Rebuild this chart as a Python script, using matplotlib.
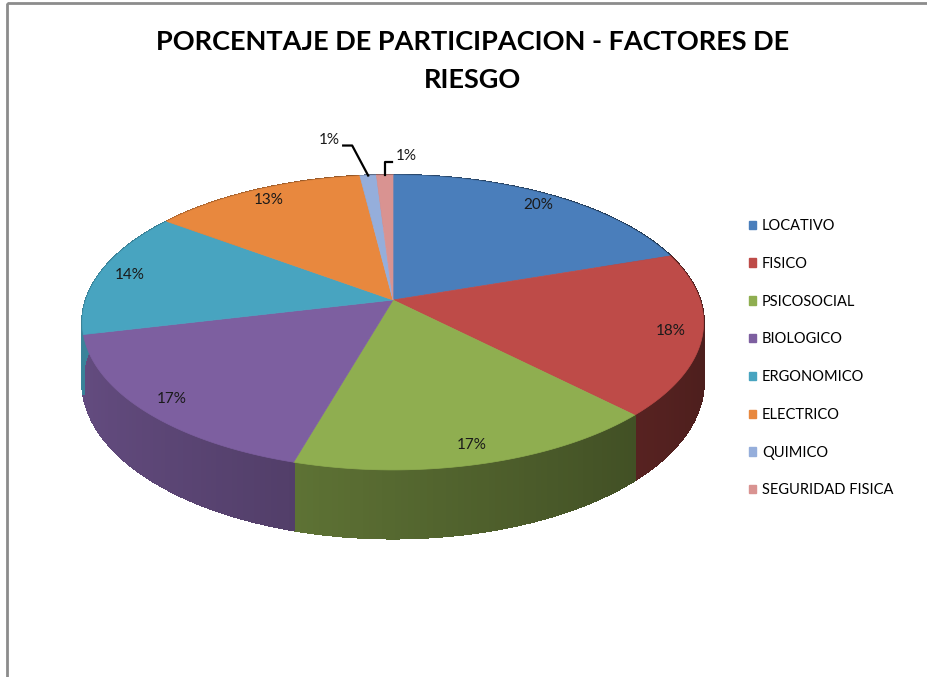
import numpy as np
import matplotlib.pyplot as plt
from matplotlib.patches import Polygon, Rectangle, Patch
from matplotlib.colors import to_rgb

categorias = ["LOCATIVO", "FISICO", "PSICOSOCIAL", "BIOLOGICO",
              "ERGONOMICO", "ELECTRICO", "QUIMICO", "SEGURIDAD FISICA"]
valores = [20, 18, 17, 17, 14, 13, 1, 1]
colores = ["#4A7EBB", "#BE4B48", "#8FAE50", "#7D5FA0",
           "#48A4C0", "#E8883E", "#95AEDB", "#D99391"]
titulo = "PORCENTAJE DE PARTICIPACION - FACTORES DE\nRIESGO"

plt.rcParams['font.family'] = ['Lato', 'DejaVu Sans']

W, H = 928, 677
fig = plt.figure(figsize=(W / 100, H / 100), dpi=100)
ax = fig.add_axes([0, 0, 1, 1])
ax.set_xlim(0, W)
ax.set_ylim(H, 0)
ax.axis('off')

# disco inclinado con algo de perspectiva (coordenadas en pixeles)
cx, cy = 393, 300
A, B, k = 307, 144, 0.1525
grosor = 58


def proyectar(theta, r=1.0):
    # theta en grados, sentido horario desde las 12
    t = np.radians(theta)
    u = r * np.sin(t)
    v = -r * np.cos(t)
    s = 1.0 / (1.0 - k * v)
    return cx + A * u * s, cy + B * v * s, s


total = float(sum(valores))
angulos = np.concatenate([[0], np.cumsum(valores) / total * 360])

# paredes laterales (sombreadas segun la orientacion)
for i, col in enumerate(colores):
    base = np.array(to_rgb(col))
    a0, a1 = angulos[i], angulos[i + 1]
    n = max(2, int((a1 - a0) / 1.0) + 1)
    th = np.linspace(a0, a1, n)
    for t0, t1 in zip(th[:-1], th[1:]):
        x0, y0, s0 = proyectar(t0)
        x1, y1, s1 = proyectar(t1)
        u = np.sin(np.radians((t0 + t1) / 2))
        f = 0.6 - 0.2 * u
        c = np.clip(base * f, 0, 1)
        quad = [(x0, y0), (x1, y1), (x1, y1 + grosor * s1), (x0, y0 + grosor * s0)]
        ax.add_patch(Polygon(quad, closed=True, facecolor=c, edgecolor=c,
                             lw=1.0, antialiased=False, zorder=1))

# cara superior
for i, col in enumerate(colores):
    a0, a1 = angulos[i], angulos[i + 1]
    th = np.linspace(a0, a1, max(3, int(a1 - a0) * 2))
    pts = [(cx, cy)] + [proyectar(t)[:2] for t in th]
    ax.add_patch(Polygon(pts, closed=True, facecolor=col, edgecolor=col,
                         lw=0.5, zorder=2))

# etiquetas de porcentaje
guia = {6: [(-16, -30), (-25, -30)], 7: [(0, -13), (7, -13)]}
texto_off = {6: (-39, -36), 7: (22, -19)}
for i, v in enumerate(valores):
    pct = f"{v / total * 100:.0f}%"
    mid = (angulos[i] + angulos[i + 1]) / 2
    if i in guia:
        xa, ya, _ = proyectar(mid)
        xs = [xa] + [xa + dx for dx, dy in guia[i]]
        ys = [ya] + [ya + dy for dx, dy in guia[i]]
        ax.plot(xs, ys, color='black', lw=1.6, zorder=4)
        dx, dy = texto_off[i]
        ax.text(xa + dx, ya + dy, pct, ha='center', va='center',
                fontsize=11, color='#1a1a1a', zorder=5)
    else:
        x, y, _ = proyectar(mid, 0.9)
        ax.text(x, y, pct, ha='center', va='center', fontsize=11,
                color='#1a1a1a', zorder=5)

# titulo
ax.text(473, 61, titulo, ha='center', va='center', fontsize=19.5,
        fontweight='bold', color='black', linespacing=1.72)

# leyenda
handles = [Patch(facecolor=c, edgecolor=c) for c in colores]
fig.legend(handles, categorias, loc='upper left',
           bbox_to_anchor=(749 / W, 1 - 219 / H), frameon=False,
           fontsize=10.5, handlelength=0.5, handleheight=0.5,
           handletextpad=0.4, labelspacing=1.63, borderpad=0,
           borderaxespad=0)

# marco del area del grafico
ax.add_patch(Rectangle((7, 3), W + 20, H + 20, fill=False,
                       edgecolor='#8c8c8c', lw=2, clip_on=False, zorder=6))

fig.savefig("out.png", dpi=100)
